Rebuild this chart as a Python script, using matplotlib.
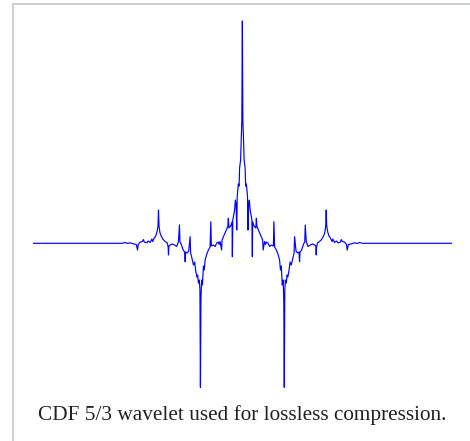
import matplotlib
matplotlib.use('Agg')
import matplotlib.pyplot as plt
from matplotlib.lines import Line2D

# CDF 5/3 wavelet (x and y in the same units)
x_left = [-2.500, -1.432, -1.396, -1.373, -1.337, -1.301, -1.265, -1.250, -1.242, -1.218,
          -1.194, -1.179, -1.170, -1.140, -1.123, -1.099, -1.079, -1.069, -1.051, -1.033,
          -1.018, -1.006, -1.000, -0.994, -0.982, -0.968, -0.944, -0.920, -0.896, -0.885,
          -0.881, -0.876, -0.861, -0.837, -0.813, -0.783, -0.762, -0.750, -0.744, -0.730,
          -0.706, -0.688, -0.682, -0.676, -0.658, -0.640, -0.623, -0.617, -0.602, -0.583,
          -0.569, -0.557, -0.543, -0.533, -0.524, -0.513, -0.506, -0.500, -0.494, -0.486,
          -0.476, -0.464, -0.454, -0.444, -0.424, -0.405, -0.385, -0.376, -0.370, -0.345,
          -0.325, -0.305, -0.286, -0.277, -0.265, -0.248, -0.242, -0.226, -0.206, -0.186,
          -0.173, -0.167, -0.161, -0.140, -0.123, -0.119, -0.114, -0.105, -0.093, -0.083,
          -0.075, -0.067, -0.061, -0.048, -0.039, -0.033, -0.021, -0.013, -0.006]
y_left = [0.000, 0.000, 0.010, -0.002, 0.006, -0.006, -0.014, -0.080, -0.014, 0.015,
          0.021, 0.045, 0.015, 0.006, 0.027, 0.010, 0.051, 0.021, 0.063, 0.087,
          0.135, 0.206, 0.396, 0.206, 0.123, 0.087, 0.045, 0.021, 0.004, -0.044,
          -0.139, -0.032, -0.020, -0.008, -0.018, -0.038, 0.021, 0.218, 0.015, -0.008,
          -0.080, -0.104, -0.219, -0.104, -0.115, -0.092, 0.079, -0.115, -0.175, -0.258,
          -0.223, -0.318, -0.401, -0.377, -0.473, -0.437, -0.556, -1.714, -0.675, -0.437,
          -0.496, -0.270, -0.318, -0.199, -0.127, -0.080, -0.044, 0.257, -0.032, -0.020,
          -0.038, 0.004, 0.015, -0.014, 0.021, -0.080, 0.039, 0.079, 0.123, 0.170,
          0.206, 0.298, 0.182, 0.206, 0.254, -0.160, 0.277, 0.325, 0.396, 0.515,
          0.468, 0.158, 0.563, 0.706, 0.682, 0.896, 0.992, 1.265, 1.468]

x_peak = [0.0]
y_peak = [2.646]

x_right = [0.006, 0.013, 0.021, 0.033, 0.039, 0.048, 0.061, 0.067, 0.075, 0.083,
           0.093, 0.105, 0.114, 0.119, 0.123, 0.140, 0.161, 0.167, 0.173, 0.186,
           0.206, 0.226, 0.242, 0.248, 0.265, 0.277, 0.286, 0.305, 0.325, 0.345,
           0.370, 0.376, 0.385, 0.405, 0.424, 0.444, 0.454, 0.464, 0.476, 0.486,
           0.494, 0.500, 0.506, 0.513, 0.524, 0.533, 0.543, 0.557, 0.569, 0.583,
           0.602, 0.617, 0.623, 0.640, 0.658, 0.676, 0.682, 0.688, 0.706, 0.730,
           0.744, 0.750, 0.762, 0.783, 0.813, 0.837, 0.861, 0.876, 0.881, 0.885,
           0.896, 0.920, 0.944, 0.968, 0.982, 0.994, 1.000, 1.006, 1.018, 1.033,
           1.051, 1.069, 1.079, 1.099, 1.123, 1.140, 1.170, 1.179, 1.194, 1.218,
           1.242, 1.250, 1.265, 1.301, 1.337, 1.373, 1.396, 1.432, 2.500]
y_right = [1.468, 1.265, 0.992, 0.896, 0.682, 0.706, 0.563, 0.158, 0.468, 0.515,
           0.396, 0.325, 0.277, -0.160, 0.254, 0.206, 0.182, 0.298, 0.206, 0.170,
           0.123, 0.079, 0.039, -0.080, 0.021, -0.014, 0.015, 0.004, -0.038, -0.020,
           -0.032, 0.257, -0.044, -0.080, -0.127, -0.199, -0.318, -0.270, -0.496, -0.437,
           -0.675, -1.714, -0.556, -0.437, -0.473, -0.377, -0.401, -0.318, -0.223, -0.258,
           -0.175, -0.115, 0.079, -0.092, -0.115, -0.104, -0.219, -0.104, -0.080, -0.008,
           0.015, 0.218, 0.021, -0.038, -0.018, -0.008, -0.020, -0.032, -0.139, -0.044,
           0.004, 0.021, 0.045, 0.087, 0.123, 0.206, 0.396, 0.206, 0.135, 0.087,
           0.063, 0.021, 0.051, 0.010, 0.027, 0.006, 0.015, 0.045, 0.021, 0.015,
           -0.014, -0.080, -0.014, -0.006, 0.006, -0.002, 0.010, 0.000, 0.000]

caption = 'CDF 5/3 wavelet used for lossless compression.'

xs = x_left + x_peak + x_right
ys = y_left + y_peak + y_right

fig = plt.figure(figsize=(4.70, 4.41), dpi=100)
ax = fig.add_axes([0.0696, 0.1043, 0.8921, 0.8617])
ax.plot(xs, ys, color='#0000ff', lw=0.85)
ax.set_xlim(-2.5, 2.5)
ax.set_ylim(-1.806, 2.718)
ax.axis('off')

# thumbnail frame (only the top and left edges show)
fig.add_artist(Line2D([12.5 / 470, 12.5 / 470], [0, 1 - 4.3 / 441],
                      transform=fig.transFigure, color='#c8ccd1', lw=1.3))
fig.add_artist(Line2D([12.5 / 470, 1], [1 - 4.3 / 441, 1 - 4.3 / 441],
                      transform=fig.transFigure, color='#c8ccd1', lw=1.3))

fig.text(242 / 470, 1 - 420 / 441, caption, ha='center', va='baseline',
         family='Liberation Serif', fontsize=15.3, color='#202122')

fig.savefig('out.png', dpi=100)
